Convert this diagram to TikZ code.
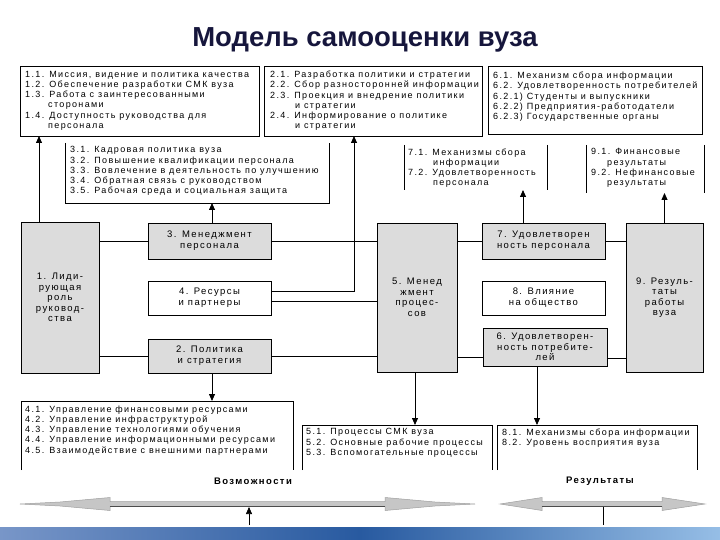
\documentclass[tikz,border=0pt]{standalone}
\usepackage{fontspec}
\setmainfont{Liberation Sans}
\newfontfamily\lsf[LetterSpace=15]{Liberation Sans}
\usetikzlibrary{arrows.meta,calc}
\definecolor{boxgray}{RGB}{220,220,220}
\definecolor{titlecol}{RGB}{22,22,60}
\definecolor{bandA}{RGB}{120,150,200}
\definecolor{bandB}{RGB}{40,90,160}
\definecolor{bandC}{RGB}{150,190,230}
\tikzset{
 bx/.style={draw, line width=0.8pt, inner sep=0pt, outer sep=0pt, align=center, font=\lsf\fontsize{9.5}{11}\selectfont},
 gbx/.style={bx, fill=boxgray},
 wbx/.style={bx, fill=white},
 ghost/.style={inner sep=0pt, outer sep=0pt},
 listtxt/.style={anchor=north west, inner sep=0pt, align=left, font=\lsf\fontsize{9}{10.2}\selectfont},
 con/.style={line width=0.8pt},
 arr/.style={con, -{Triangle[length=7pt,width=6pt]}},
 edge/.style={line width=0.8pt},
 bigarrow/.style={fill=gray!45, draw=gray!75, line width=0.5pt},
 lbl/.style={inner sep=0pt, font=\lsf\fontsize{9.5}{11}\selectfont\bfseries},
}
\begin{document}
\begin{tikzpicture}[x=1pt,y=-1pt]
\useasboundingbox (0,0) rectangle (720,540);
\fill[white] (0,0) rectangle (720,540);
% band
\shade[left color=bandA, right color=bandC, middle color=bandB] (0,527) rectangle (720,540);

\node[font=\fontsize{27.5}{32}\selectfont\bfseries, text=titlecol] (title) at (365,40) {Модель самооценки вуза};

% top boxes
\node[bx, minimum width=239pt, minimum height=70pt] (T1) at (139.5,101) {};
\node[bx, minimum width=218pt, minimum height=70pt] (T2) at (373,101) {};
\node[bx, minimum width=214pt, minimum height=68pt] (T6) at (595,100) {};
\node[listtxt] (T1t) at (25,71) {1.1. Миссия, видение и политика качества\\1.2. Обеспечение разработки СМК вуза\\1.3. Работа с заинтересованными\\\hspace*{23pt}сторонами\\1.4. Доступность руководства для\\\hspace*{23pt}персонала};
\node[listtxt] (T2t) at (270,71) {2.1. Разработка политики и стратегии\\2.2. Сбор разносторонней информации\\2.3. Проекция и внедрение политики\\\hspace*{25pt}и стратегии\\2.4. Информирование о политике\\\hspace*{25pt}и стратегии};
\node[listtxt] (T6t) at (493,72) {6.1. Механизм сбора информации\\6.2. Удовлетворенность потребителей\\6.2.1) Студенты и выпускники\\6.2.2) Предприятия-работодатели\\6.2.3) Государственные органы};

% second row lists
\node[ghost, minimum width=264pt, minimum height=60pt] (L3) at (197,173) {};
\draw[edge] (L3.north west) -- (L3.south west) -- (L3.south east) -- (L3.north east);
\node[listtxt] (L3t) at (70,146.5) {3.1. Кадровая политика вуза\\3.2. Повышение квалификации персонала\\3.3. Вовлечение в деятельность по улучшению\\3.4. Обратная связь с руководством\\3.5. Рабочая среда и социальная защита};
\node[ghost, minimum width=143pt, minimum height=45pt] (L7) at (475.5,167.5) {};
\draw[edge] (L7.north west) -- (L7.south west) (L7.north east) -- (L7.south east);
\node[listtxt] (L7t) at (408,148.5) {7.1. Механизмы сбора\\\hspace*{25pt}информации\\7.2. Удовлетворенность\\\hspace*{25pt}персонала};
\node[ghost, minimum width=118pt, minimum height=48pt] (L9) at (645,169) {};
\draw[edge] (L9.north west) -- (L9.south west) (L9.north east) -- (L9.south east);
\node[listtxt] (L9t) at (591,148.5) {9.1. Финансовые\\\hspace*{16pt}результаты\\9.2. Нефинансовые\\\hspace*{16pt}результаты};

% middle boxes
\node[gbx, minimum width=78pt, minimum height=151pt, font=\lsf\fontsize{9.5}{10.5}\selectfont] (M1) at (60,297.5) {1. Лиди-\\рующая\\роль\\руковод-\\ства};
\node[gbx, minimum width=123pt, minimum height=36pt] (M3) at (209.5,241) {3. Менеджмент\\персонала};
\node[wbx, minimum width=123pt, minimum height=34pt] (M4) at (209.5,298) {4. Ресурсы\\и партнеры};
\node[gbx, minimum width=123pt, minimum height=34pt] (M2) at (209.5,356) {2. Политика\\и стратегия};
\node[gbx, minimum width=80pt, minimum height=149pt, font=\lsf\fontsize{9.5}{10.5}\selectfont] (M5) at (417,297.5) {5. Менед\\жмент\\процес-\\сов};
\node[gbx, minimum width=123pt, minimum height=36pt] (M7) at (543.5,241) {7. Удовлетворен\\ность персонала};
\node[wbx, minimum width=123pt, minimum height=34pt] (M8) at (543.5,298) {8. Влияние\\на общество};
\node[gbx, minimum width=124pt, minimum height=38pt, font=\lsf\fontsize{9.5}{10.5}\selectfont] (M6) at (545,347) {6. Удовлетворен-\\ность потребите-\\лей};
\node[gbx, minimum width=77pt, minimum height=149pt, font=\lsf\fontsize{9.5}{10.5}\selectfont] (M9) at (664.5,297.5) {9. Резуль-\\таты\\работы\\вуза};

% bottom lists
\node[ghost, minimum width=272pt, minimum height=69pt] (L4) at (157,435.5) {};
\draw[edge] (L4.south west) -- (L4.north west) -- (L4.north east) -- (L4.south east);
\node[listtxt] (L4t) at (25,405.5) {4.1. Управление финансовыми ресурсами\\4.2. Управление инфраструктурой\\4.3. Управление технологиями обучения\\4.4. Управление информационными ресурсами\\4.5. Взаимодействие с внешними партнерами};
\node[ghost, minimum width=190pt, minimum height=45pt] (L5) at (397,447.5) {};
\draw[edge] (L5.south west) -- (L5.north west) -- (L5.north east) -- (L5.south east);
\node[listtxt] (L5t) at (306,428.5) {5.1. Процессы СМК вуза\\5.2. Основные рабочие процессы\\5.3. Вспомогательные процессы};
\node[ghost, minimum width=200pt, minimum height=45pt] (L8) at (597,447.5) {};
\draw[edge] (L8.south west) -- (L8.north west) -- (L8.north east) -- (L8.south east);
\node[listtxt] (L8t) at (502,428.5) {8.1. Механизмы сбора информации\\8.2. Уровень восприятия вуза};

% horizontal connectors
\draw[con] (M3.west) -- (M3.west -| M1.east);
\draw[con] (M2.west) -- (M2.west -| M1.east);
\draw[con] (M3.east) -- (M3.east -| M5.west);
\draw[con] ([yshift=-3pt]M4.east) -- ([yshift=-3pt]M4.east -| M5.west);
\draw[con] (M2.east) -- (M2.east -| M5.west);
\draw[con] (M7.west) -- (M7.west -| M5.east);
\draw[con] (M7.east) -- (M7.east -| M9.west);
\draw[con] ([yshift=-10pt]M6.west) -- ([yshift=-10pt]M6.west -| M5.east);
\draw[con] ([yshift=-11pt]M6.east) -- ([yshift=-11pt]M6.east -| M9.west);
\draw[arr] ([yshift=7pt]M4.east) -| ([xshift=-19pt]T2.south);

% vertical arrows
\draw[arr] ([xshift=-21pt]M1.north) -- ([xshift=-21pt]M1.north |- T1.south);
\draw[arr] ([xshift=2.5pt]M3.north) -- ([xshift=2.5pt]M3.north |- L3.south);
\draw[arr] ([xshift=-20.5pt]M7.north) -- ([xshift=-20.5pt]M7.north |- L7.south);
\draw[arr] (M9.north) -- (M9.north |- L9.south);
\draw[arr] ([xshift=2.5pt]M2.south) -- ([xshift=2.5pt]M2.south |- L4.north);
\draw[arr] ([xshift=-2pt]M5.south) -- ([xshift=-2pt]M5.south |- L5.north);
\draw[arr] ([xshift=-8pt]M6.south) -- ([xshift=-8pt]M6.south |- L8.north);

% bottom big arrows
\draw[bigarrow] (20,504) -- (60,502) -- (110,497.5) -- (110,501.5) -- (385,501.5) -- (385,497.5) -- (435,502) -- (475,504) -- (435,506) -- (385,510.5) -- (385,506.5) -- (110,506.5) -- (110,510.5) -- (60,506) -- cycle;
\draw[line width=0.6pt, black!70] (110,506.5) -- (385,506.5);
\draw[bigarrow] (500,504) -- (542,497.5) -- (542,501.5) -- (662,501.5) -- (662,497.5) -- (705,504) -- (662,510.5) -- (662,506.5) -- (542,506.5) -- (542,510.5) -- cycle;
\draw[line width=0.6pt, black!70] (542,506.5) -- (662,506.5);
\node[lbl] (lv) at (253,481) {Возможности};
\node[lbl] (lr) at (600,481) {Результаты};
\coordinate (ua) at (249,525);
\coordinate (ub) at (249,507);
\draw[arr, line width=0.6pt] (ua) -- (ub);
\coordinate (ra) at (603,507);
\coordinate (rb) at (603,525);
\draw[line width=0.6pt] (ra) -- (rb);
\end{tikzpicture}
\end{document}
